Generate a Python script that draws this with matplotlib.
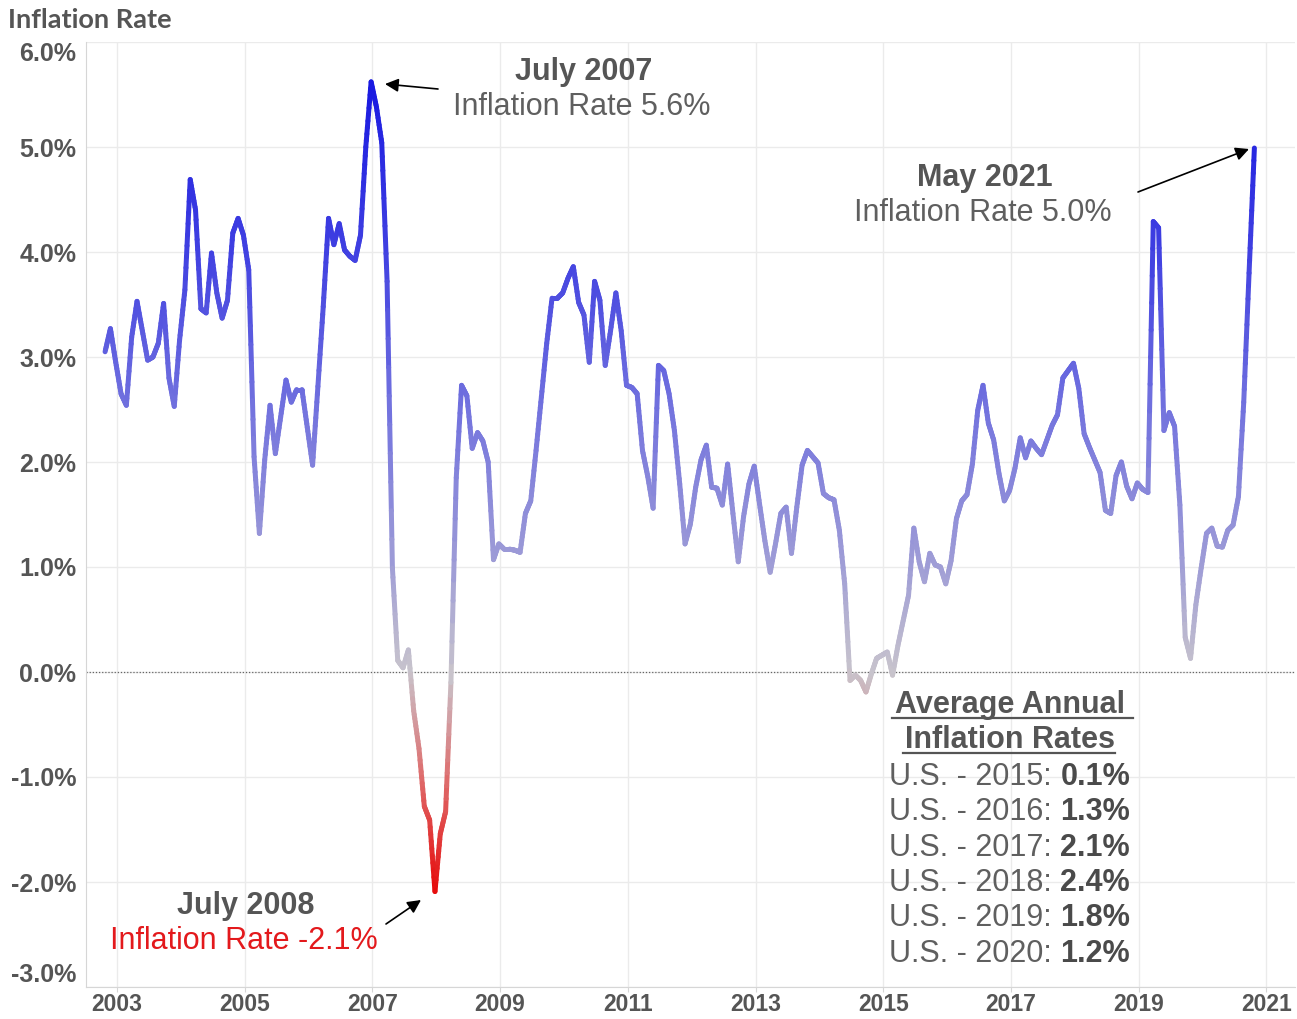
import numpy as np
import matplotlib
matplotlib.use("Agg")
import matplotlib.pyplot as plt
from matplotlib.collections import LineCollection
from matplotlib.colors import LinearSegmentedColormap, TwoSlopeNorm
from matplotlib.lines import Line2D

# monthly US inflation rate (%), May 2003 .. May 2021
start_year = 2003 + 4 / 12
rate = [
    3.05, 3.27, 2.95, 2.65, 2.54, 3.19, 3.53, 3.25, 2.97, 3.00, 3.13, 3.51,
    2.80, 2.53, 3.16, 3.64, 4.69, 4.40, 3.46, 3.42, 3.99, 3.61, 3.37, 3.54,
    4.18, 4.32, 4.16, 3.83, 2.05, 1.32, 2.02, 2.54, 2.08, 2.43, 2.78, 2.57,
    2.69, 2.69, 2.33, 1.97, 2.72, 3.48, 4.32, 4.07, 4.27, 4.02, 3.96, 3.92,
    4.16, 5.00, 5.62, 5.38, 5.04, 3.72, 0.99, 0.11, 0.04, 0.21, -0.37, -0.73,
    -1.28, -1.41, -2.09, -1.54, -1.33, -0.10, 1.85, 2.73, 2.63, 2.13, 2.28, 2.20,
    2.00, 1.07, 1.22, 1.17, 1.17, 1.16, 1.14, 1.51, 1.63, 2.11, 2.62, 3.13,
    3.56, 3.56, 3.61, 3.75, 3.86, 3.52, 3.40, 2.95, 3.72, 3.54, 2.92, 3.25,
    3.61, 3.25, 2.73, 2.71, 2.65, 2.11, 1.86, 1.56, 2.92, 2.87, 2.65, 2.30,
    1.79, 1.22, 1.41, 1.76, 2.02, 2.16, 1.76, 1.75, 1.59, 1.98, 1.51, 1.05,
    1.48, 1.79, 1.96, 1.60, 1.25, 0.95, 1.22, 1.51, 1.57, 1.13, 1.57, 1.97,
    2.11, 2.05, 1.99, 1.70, 1.66, 1.64, 1.35, 0.84, -0.08, -0.03, -0.08, -0.19,
    -0.02, 0.13, 0.16, 0.19, -0.03, 0.25, 0.49, 0.73, 1.37, 1.05, 0.86, 1.13,
    1.02, 1.00, 0.84, 1.06, 1.46, 1.63, 1.69, 1.98, 2.49, 2.73, 2.37, 2.21,
    1.89, 1.63, 1.73, 1.94, 2.23, 2.04, 2.20, 2.13, 2.07, 2.21, 2.35, 2.45,
    2.80, 2.87, 2.94, 2.70, 2.27, 2.14, 2.02, 1.90, 1.54, 1.51, 1.87, 2.00,
    1.77, 1.65, 1.80, 1.74, 1.71, 4.29, 4.23, 2.30, 2.47, 2.34, 1.59, 0.33,
    0.13, 0.64, 0.99, 1.32, 1.37, 1.20, 1.19, 1.35, 1.40, 1.67, 2.57, 3.80,
    4.99,
]
year_ticks = [2003, 2005, 2007, 2009, 2011, 2013, 2015, 2017, 2019, 2021]
pct_ticks = [-3, -2, -1, 0, 1, 2, 3, 4, 5, 6]
avg_years = [2015, 2016, 2017, 2018, 2019, 2020]
avg_rates = [0.1, 1.3, 2.1, 2.4, 1.8, 1.2]

plt.rcParams["font.family"] = ["Liberation Sans", "DejaVu Sans"]
W, H = 1297, 1019
GREY = "#555555"


def fp(px, py):
    # pixel position (from top-left) -> figure fraction
    return (px / W, 1 - py / H)


fig = plt.figure(figsize=(W / 100, H / 100), dpi=100)
ax = fig.add_axes([86 / W, (H - 987) / H, (1295 - 86) / W, (987 - 42) / H])

x = start_year + np.arange(len(rate)) / 12
y = np.array(rate)

# split each segment so the colour follows the value along the line
n = 10
xs = np.concatenate([np.linspace(x[i], x[i + 1], n + 1)[:-1] for i in range(len(x) - 1)] + [x[-1:]])
ys = np.concatenate([np.linspace(y[i], y[i + 1], n + 1)[:-1] for i in range(len(y) - 1)] + [y[-1:]])
pts = np.column_stack([xs, ys]).reshape(-1, 1, 2)
segs = np.concatenate([pts[:-1], pts[1:]], axis=1)

norm = TwoSlopeNorm(vmin=-2.1, vcenter=0, vmax=5.62)
stops = [(-2.1, "#e60a0a"), (-1.0, "#de6e6e"), (0.0, "#c8c4cc"), (1.0, "#a09ed6"),
         (2.5, "#7373de"), (4.0, "#4141e1"), (5.62, "#1919e1")]
cmap = LinearSegmentedColormap.from_list("infl", [(float(norm(v)), c) for v, c in stops])
lc = LineCollection(segs, colors=cmap(norm((ys[:-1] + ys[1:]) / 2)), linewidths=3.6,
                    capstyle="round", zorder=3)
ax.add_collection(lc)

ax.set_xlim(2003.52 - 31 / 63.85, 2003.52 + 1178 / 63.85)
ax.set_ylim(-3, 6)
ax.set_xticks([yr + 0.52 for yr in year_ticks], [str(yr) for yr in year_ticks])
ax.set_yticks(pct_ticks, [f"{v:.1f}%" for v in pct_ticks])
ax.grid(True, color="#ebebeb", lw=1)
ax.set_axisbelow(True)
ax.axhline(0, color="#666666", lw=0.9, ls=(0, (1, 1.5)), zorder=2)
for s in ["top", "right"]:
    ax.spines[s].set_visible(False)
for s in ["left", "bottom"]:
    ax.spines[s].set_color("#d6d6d6")
ax.tick_params(axis="y", length=0, pad=7, labelsize=18, labelcolor=GREY)
ax.tick_params(axis="x", length=3.5, color="#d6d6d6", pad=0.5, labelsize=16.5, labelcolor=GREY)
for lab in ax.get_xticklabels() + ax.get_yticklabels():
    lab.set_fontweight("bold")
ylabs = ax.get_yticklabels()
ylabs[0].set_va("bottom")
ylabs[-1].set_va("top")

fig.text(*fp(8, 28), "Inflation Rate", fontsize=19.5, fontweight="bold", color=GREY,
         family=["Lato", "DejaVu Sans"], ha="left", va="baseline")

# annotations
def note(cx, by, title, sub, sub_color="#5f5f5f"):
    fig.text(*fp(cx, by), title, ha="center", va="baseline", fontsize=22,
             fontweight="bold", color=GREY)
    fig.text(*fp(cx - 2, by + 35), sub, ha="center", va="baseline", fontsize=22,
             color=sub_color)


def arrow(tail, head):
    ax.annotate("", xy=fp(*head), xycoords="figure fraction", xytext=fp(*tail),
                textcoords="figure fraction",
                arrowprops=dict(arrowstyle="-|>", color="black", lw=1.2,
                                mutation_scale=20, shrinkA=0, shrinkB=0))


note(584, 80, "July 2007", "Inflation Rate 5.6%")
arrow((438, 89), (385, 84))
note(985, 186, "May 2021", "Inflation Rate 5.0%")
arrow((1138, 192), (1249, 149))
note(246, 914, "July 2008", "Inflation Rate -2.1%", sub_color="#e3191c")
arrow((386, 924), (421, 900))

# average annual box
fig.text(*fp(1010, 713), "Average Annual", ha="center", va="baseline", fontsize=22,
         fontweight="bold", color=GREY)
fig.text(*fp(1010, 748), "Inflation Rates", ha="center", va="baseline", fontsize=22,
         fontweight="bold", color=GREY)
fig.add_artist(Line2D([892 / W, 1133 / W], [1 - 718 / H] * 2, color=GREY, lw=1.6))
fig.add_artist(Line2D([903 / W, 1115 / W], [1 - 753 / H] * 2, color=GREY, lw=1.6))
for i, (yr, r) in enumerate(zip(avg_years, avg_rates)):
    by = 785 + i * 35.3
    fig.text(*fp(889, by), f"U.S. - {yr}: ", ha="left", va="baseline", fontsize=22,
             color="#5f5f5f")
    fig.text(*fp(1130, by), f"{r:.1f}%", ha="right", va="baseline", fontsize=22,
             fontweight="bold", color="#4a4a4a")

fig.savefig("out.png", dpi=100)
